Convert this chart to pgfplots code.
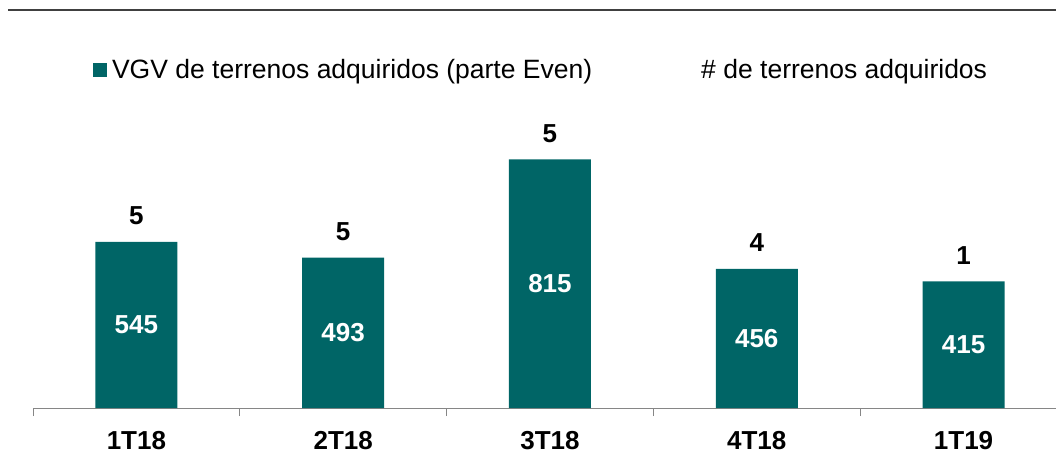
\documentclass[border=0pt]{standalone}
\usepackage{fontspec}
\setmainfont{Liberation Sans}
\usepackage{pgfplots}
\pgfplotsset{compat=1.18}
\usepackage{pgfplotstable}
\definecolor{barteal}{RGB}{0,101,102}
\definecolor{axisgray}{RGB}{134,134,134}
\definecolor{topline}{RGB}{64,64,64}
\pgfplotstableread{
x v n
0 545 5
1 493 5
2 815 5
3 456 4
4 415 1
}\datatable
\begin{document}
\begin{tikzpicture}[x=1pt,y=1pt]
\useasboundingbox (0,0) rectangle (1056,453);
\draw[line width=1.5pt, topline] (8,443) -- (1056,443);
\begin{axis}[
 at={(33pt,45pt)}, anchor=south west,
 scale only axis, width=1023pt, height=308pt,
 xmin=-0.5, xmax=4.447, ymin=0, ymax=1010,
 hide y axis,
 axis x line*=bottom,
 x axis line style={-, draw=axisgray, line width=1pt},
 xtick pos=left,
 xtick={0,1,2,3,4}, xticklabels={1T18,2T18,3T18,4T18,1T19},
 major x tick style={draw=none},
 minor xtick={-0.5,0.5,1.5,2.5,3.5},
 minor x tick style={draw=axisgray, line width=1pt},
 minor tick length=8pt,
 major tick length=0pt,
 tick align=outside,
 xticklabel style={font=\bfseries\fontsize{26}{30}\selectfont, anchor=base, inner sep=0pt, yshift=-41pt},
 clip=false,
 legend columns=2,
 legend style={draw=none, fill=none, at={(axis description cs:0.0587,1.097)}, anchor=west,
   font=\fontsize{26.5}{30}\selectfont, inner sep=0pt, outer sep=0pt,
   nodes={inner sep=0pt},
   /tikz/column 1/.style={column sep=5pt},
   /tikz/column 2/.style={column sep=109pt},
   /tikz/column 3/.style={column sep=0pt}},
]
\addplot[ybar, bar width=82pt, fill=barteal, draw=none,
  legend image code/.code={\fill[barteal] (0pt,-7pt) rectangle (14pt,7pt);}]
  table[x=x,y=v]{\datatable};
\addlegendentry{VGV de terrenos adquiridos (parte Even)}
\addplot[draw=none, mark=none, legend image code/.code={},
  point meta=explicit symbolic, nodes near coords,
  nodes near coords style={font=\bfseries\fontsize{26}{30}\selectfont, anchor=base, yshift=17pt, inner sep=0pt, text=black}]
  table[x=x, y=v, meta=n]{\datatable};
\addlegendentry{\# de terrenos adquiridos}
\addplot[draw=none, mark=none, forget plot,
  point meta=explicit symbolic, nodes near coords,
  nodes near coords style={font=\bfseries\fontsize{26}{30}\selectfont, anchor=center, inner sep=0pt, text=white}]
  table[x=x, y expr=\thisrow{v}/2, meta=v]{\datatable};
\end{axis}
\end{tikzpicture}
\end{document}
